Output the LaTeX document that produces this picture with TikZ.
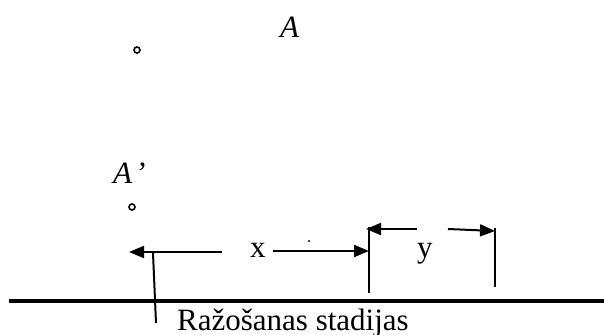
\documentclass[tikz,border=0pt]{standalone}
\usepackage{fontspec}
\setmainfont{Liberation Serif}
\usetikzlibrary{arrows.meta}
\begin{document}
\begin{tikzpicture}[x=1bp,y=-1bp,
  txt/.style={inner sep=0pt,anchor=base west,font=\fontsize{31bp}{36bp}\selectfont},
  pt/.style={circle,draw,line width=1.6bp,inner sep=0pt,minimum size=6bp},
  thin/.style={line width=2bp},
  dim/.style={line width=2bp,-{Triangle[length=15bp,width=12bp]}}]
\useasboundingbox (0,0) rectangle (604,334);
% texts
\node[txt] (A) at (280,37) {\itshape A};
\node[txt] (Ap) at (113,183) {\itshape A\kern3bp’};
\node[txt] (x) at (250,257) {x};
\node[txt] (y) at (417,257) {y};
\node[txt] (R) at (177,330) {Ražošanas stadijas};
% points
\node[pt] (p1) at (137,50) {};
\node[pt] (p2) at (132,207) {};
\fill (309,241) circle (1.2bp);
% ground line
\coordinate (g1) at (9,301);
\coordinate (g2) at (604,301);
\draw[line width=4bp] (g1) -- (g2);
% dimension x
\coordinate (xl) at (129,252);
\coordinate (xle) at (222,252);
\coordinate (xrs) at (273,251);
\coordinate (xr) at (369,251);
\draw[dim] (xle) -- (xl);
\draw[dim] (xrs) -- (xr);
% dimension y
\coordinate (yl) at (366,229);
\coordinate (yle) at (417,229);
\coordinate (yrs) at (448,229);
\coordinate (yr) at (495,231);
\draw[dim] (yle) -- (yl);
\draw[dim] (yrs) -- (yr);
% vertical lines
\coordinate (v1t) at (369,227);
\coordinate (v1b) at (369,293);
\draw[thin] (v1t) -- (v1b);
\coordinate (v2t) at (495,228);
\coordinate (v2b) at (495,287);
\draw[thin] (v2t) -- (v2b);
\coordinate (v3t) at (153,253);
\coordinate (v3b) at (156,323);
\draw[thin] (v3t) -- (v3b);
\end{tikzpicture}
\end{document}
